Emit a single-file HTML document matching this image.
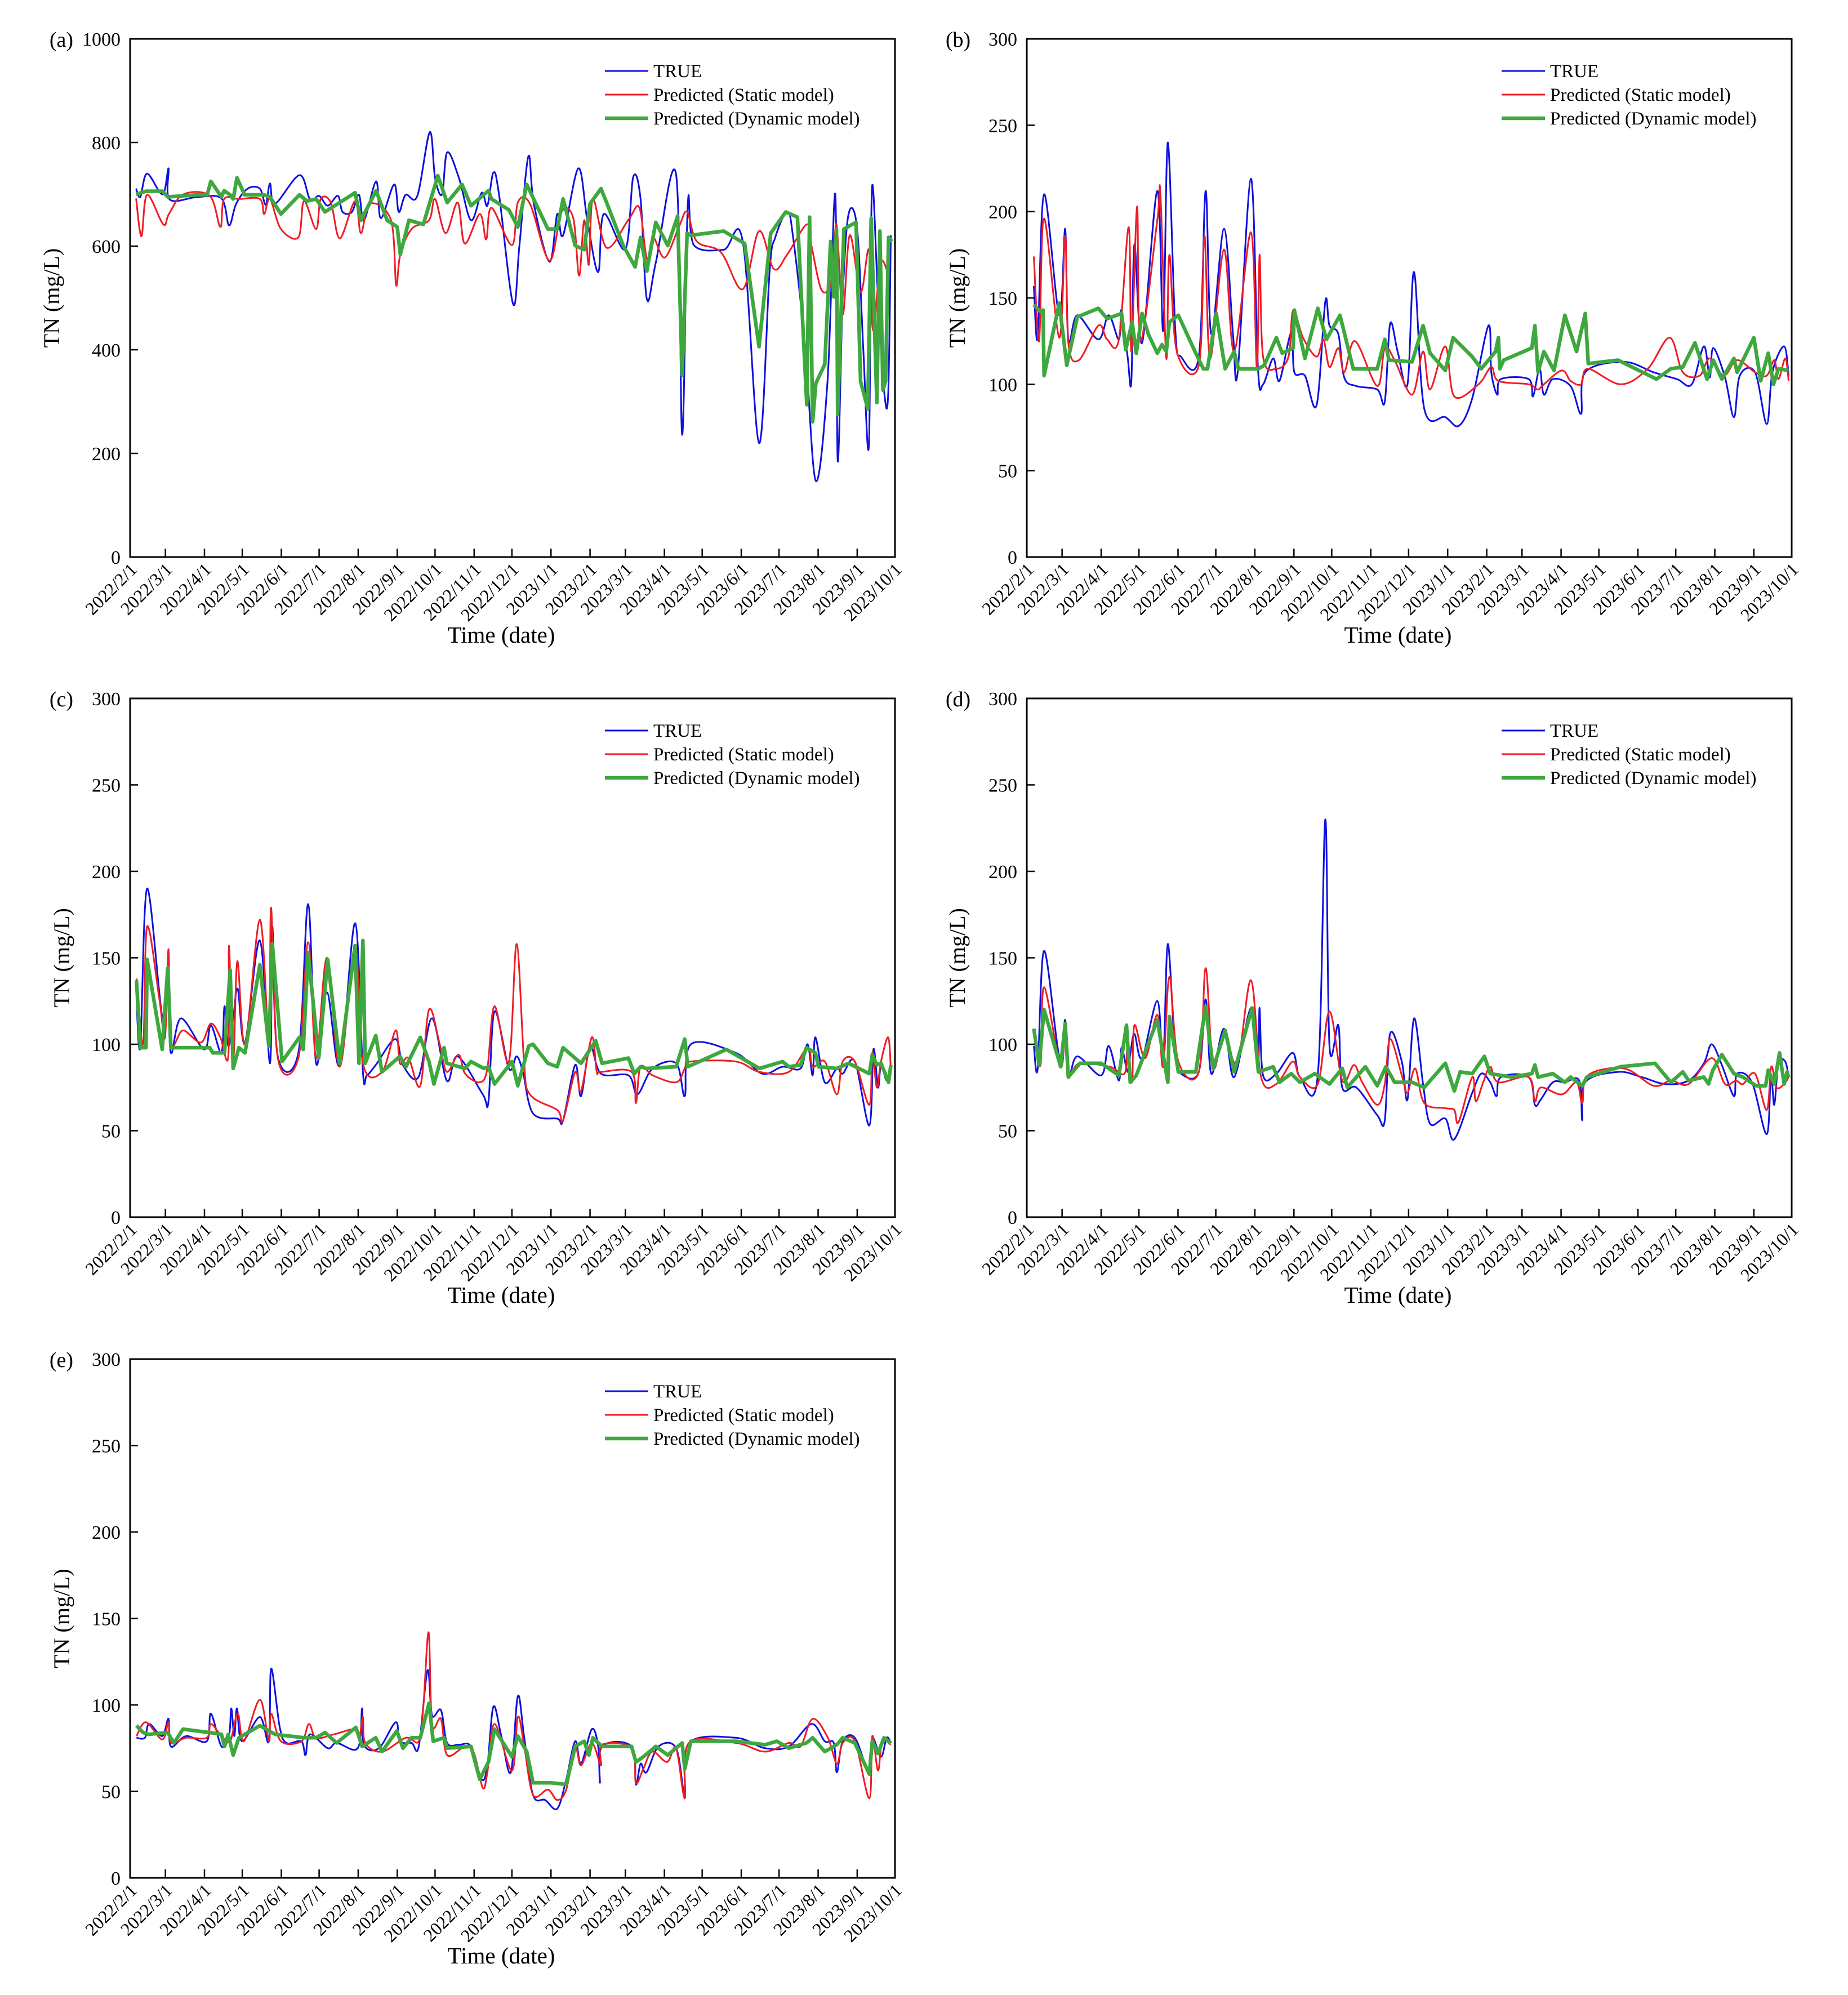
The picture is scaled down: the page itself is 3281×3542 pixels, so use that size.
<!DOCTYPE html>
<html><head><meta charset="utf-8">
<style>
html,body{margin:0;padding:0;background:#fff;}
svg{display:block;}
text{font-family:"Liberation Serif",serif;fill:#000;}
</style></head>
<body>
<svg id="chart" width="3281" height="3542" viewBox="0 0 3281 3542" xmlns="http://www.w3.org/2000/svg">
<rect x="0" y="0" width="3281" height="3542" fill="#fff"/>
</svg>
<script>
// ---------- data (t = months since 2022/2/1, v = TN mg/L) ----------
const monthLabels = ["2022/2/1","2022/3/1","2022/4/1","2022/5/1","2022/6/1","2022/7/1","2022/8/1","2022/9/1","2022/10/1","2022/11/1","2022/12/1","2023/1/1","2023/2/1","2023/3/1","2023/4/1","2023/5/1","2023/6/1","2023/7/1","2023/8/1","2023/9/1","2023/10/1"];
const seriesNames = ["TRUE","Predicted (Static model)","Predicted (Dynamic model)"];
const yTicksA = [0,200,400,600,800,1000];
const yTicksB = [0,50,100,150,200,250,300];

const a_true_t = [0.17,0.29,0.48,0.92,1.08,1.11,1.83,2.45,2.65,2.84,3.14,3.45,3.6,3.71,3.84,4.48,4.76,5.0,5.22,5.48,5.6,5.84,6.02,6.15,6.46,6.58,6.92,7.04,7.22,7.53,7.86,8.0,8.18,8.31,8.61,8.92,9.2,9.35,9.51,9.66,10.03,10.19,10.42,10.56,10.96,11.16,11.31,11.7,11.93,12.23,12.39,13.0,13.2,13.39,13.55,13.78,14.31,14.47,14.62,14.78,15.55,16.04,16.47,16.75,16.9,17.21,17.36,17.67,17.94,18.24,18.44,18.5,18.63,18.78,19.0,19.16,19.31,19.39,19.55,19.71,19.82,19.89];
const a_true_v = [711,695,740,700,750,690,695,692,640,682,711,711,680,721,682,737,690,697,678,697,666,666,699,650,725,654,719,666,699,697,820,732,700,781,732,650,703,678,742,699,488,600,773,682,570,662,621,750,650,550,662,594,733,691,498,568,738,236,682,602,593,609,220,552,617,666,617,404,147,339,700,187,502,662,633,404,216,711,502,322,314,621];
const a_static_t = [0.17,0.32,0.48,0.94,1.09,1.46,2.14,2.42,2.52,2.91,3.45,3.56,3.71,3.99,4.45,4.6,4.92,5.04,5.3,5.53,5.92,6.07,6.3,6.84,6.97,7.08,7.38,7.84,8.0,8.27,8.58,8.76,9.15,9.32,9.46,10.0,10.15,10.46,10.96,11.27,11.57,11.72,11.85,11.97,12.08,12.47,13.08,13.36,13.55,13.71,14.01,14.4,14.6,14.86,15.48,16.04,16.47,16.86,17.21,17.71,17.83,18.09,18.35,18.47,18.63,18.81,19.09,19.31,19.42,19.62,19.85];
const a_static_v = [692,619,699,642,662,700,697,637,691,691,691,662,691,633,617,687,633,691,684,615,687,625,682,650,525,584,633,650,691,625,684,605,662,613,674,602,684,682,572,666,654,543,650,564,691,597,651,674,576,617,578,640,666,609,588,517,629,556,584,642,601,515,535,642,468,621,511,593,437,568,539];
const a_dyn_t = [0.17,0.45,0.92,1.06,1.83,2.07,2.17,2.45,2.52,2.68,2.76,2.86,3.06,3.56,3.71,3.99,4.48,4.68,4.92,5.15,5.92,6.07,6.46,6.74,7.0,7.08,7.31,7.69,8.07,8.31,8.69,8.92,9.38,9.46,9.92,10.15,10.38,10.92,11.16,11.31,11.62,11.85,12.0,12.31,12.47,12.94,13.25,13.39,13.55,13.78,14.09,14.35,14.47,14.6,14.7,15.55,16.09,16.47,16.78,17.17,17.47,17.71,17.78,17.86,17.94,18.17,18.32,18.4,18.47,18.5,18.66,18.97,19.09,19.28,19.37,19.52,19.6,19.68,19.75,19.83,19.92];
const a_dyn_v = [700,706,706,695,699,699,725,695,707,699,691,732,699,699,695,662,699,687,691,666,703,650,707,650,637,584,650,642,736,684,719,678,707,691,670,637,719,633,633,691,601,593,682,711,684,601,560,617,552,646,601,658,351,625,621,629,605,406,625,666,656,294,656,261,335,372,609,502,633,276,633,646,339,286,654,298,629,322,339,617,609];

const b_true_t = [0.2,0.31,0.49,0.92,1.08,1.16,1.39,1.93,2.2,2.47,2.54,2.7,2.8,2.88,3.08,3.47,3.62,3.74,3.93,4.08,4.55,4.73,4.88,5.21,5.44,5.56,5.9,6.08,6.21,6.47,6.63,6.93,7.01,7.29,7.6,7.83,7.94,8.17,8.32,8.63,9.17,9.37,9.51,9.71,9.97,10.14,10.4,10.94,11.29,11.63,12.05,12.13,12.3,12.4,13.17,13.28,13.45,13.56,13.79,14.25,14.53,14.64,15.64,16.41,17.03,17.41,17.72,17.87,17.96,18.26,18.49,18.64,19.03,19.34,19.49,19.8,19.92];
const b_true_v = [157,127,210,140,190,126,140,126,140,126,143,116,102,181,124,212,131,240,132,116,116,212,129,190,129,107,219,109,100,115,102,130,107,105,88,148,134,129,104,99,97,90,135,119,100,165,86,81,76,92,134,107,94,103,103,93,109,94,103,99,83,107,113,107,103,100,122,104,121,104,81,105,107,77,107,122,105];
const b_static_t = [0.2,0.35,0.49,0.92,1.08,1.16,1.43,1.93,2.16,2.47,2.73,2.8,2.95,3.04,3.47,3.55,3.7,3.78,3.97,4.55,4.7,4.85,5.21,5.47,5.9,6.05,6.12,6.21,6.55,6.86,6.98,7.24,7.6,7.78,7.94,8.17,8.32,8.6,9.17,9.37,9.63,10.09,10.37,10.55,10.94,11.17,11.79,12.13,12.33,13.17,13.4,13.56,14.02,14.25,14.53,14.71,15.56,16.26,16.84,17.18,17.61,17.87,18.23,18.57,19.03,19.34,19.54,19.65,19.83,19.92];
const b_static_v = [174,125,196,127,186,124,114,134,126,126,191,119,203,125,195,210,115,175,119,111,186,115,178,119,188,109,175,116,109,116,143,127,116,126,110,121,107,125,99,121,114,94,119,97,122,93,100,110,102,100,97,100,108,102,100,109,100,109,127,107,105,115,105,114,107,105,114,103,115,102];
const b_dyn_t = [0.2,0.39,0.46,0.49,0.92,1.12,1.39,1.93,2.16,2.54,2.65,2.82,2.93,3.08,3.24,3.47,3.59,3.7,3.78,4.01,4.47,4.67,4.78,5.01,5.24,5.47,5.58,6.09,6.24,6.55,6.7,6.98,7.01,7.29,7.63,7.86,8.21,8.55,9.17,9.37,9.48,10.09,10.37,10.55,10.94,11.14,11.63,11.86,12.25,12.33,12.37,12.48,13.25,13.33,13.41,13.56,13.82,14.1,14.41,14.64,14.72,15.49,16.49,16.87,17.18,17.49,17.8,17.96,18.18,18.49,18.57,19.0,19.18,19.38,19.52,19.65,19.92];
const b_dyn_v = [146,142,143,105,147,111,139,144,138,141,120,136,118,141,129,118,123,119,136,140,118,109,109,141,109,119,109,109,111,127,118,121,143,115,144,126,140,109,109,126,114,113,134,118,108,127,116,109,119,127,109,114,121,134,107,119,108,140,119,141,112,114,103,109,110,124,103,114,103,115,107,127,102,118,100,109,108];

const c_true_t = [0.18,0.29,0.48,0.91,1.06,1.14,1.4,1.99,2.17,2.45,2.53,2.63,2.76,2.88,3.07,3.45,3.71,3.77,3.91,4.45,4.71,4.92,5.2,5.53,5.92,6.12,6.22,6.45,6.95,7.15,7.56,7.92,8.3,8.58,9.23,9.38,9.54,9.92,10.12,10.28,10.54,11.16,11.31,11.62,11.77,12.0,12.31,13.08,13.31,13.7,14.31,14.54,14.7,15.86,16.55,17.09,17.55,17.73,17.86,17.93,18.17,18.48,18.63,18.94,19.32,19.43,19.55,19.63,19.78,19.89];
const c_true_v = [126,99,190,116,133,95,115,97,111,95,122,99,115,132,101,160,89,168,93,95,181,89,130,88,170,84,82,88,103,88,81,115,79,93,71,67,119,86,93,84,60,57,56,88,70,99,83,82,71,86,89,70,100,95,83,87,86,100,82,104,78,86,83,90,53,97,75,88,79,86];
const c_static_t = [0.18,0.37,0.48,0.83,0.99,1.08,1.14,1.45,1.91,2.17,2.42,2.63,2.65,2.76,2.87,3.07,3.45,3.68,3.74,3.91,4.45,4.71,4.92,5.2,5.53,5.92,6.12,6.61,6.96,7.07,7.3,7.61,7.84,8.12,8.3,8.6,8.77,9.15,9.35,9.54,9.92,10.12,10.31,10.46,11.16,11.31,11.62,11.77,12.05,12.19,12.31,13.16,13.27,13.39,13.7,14.31,14.54,14.7,15.86,16.48,17.25,17.73,17.86,18.17,18.48,18.63,18.94,19.32,19.4,19.52,19.63,19.82,19.89];
const c_static_v = [138,100,168,126,104,155,101,108,101,112,104,93,157,90,148,100,172,104,179,92,92,159,92,150,87,157,89,84,108,89,92,76,120,100,84,94,83,78,86,122,90,158,90,71,62,56,84,73,104,84,84,84,66,87,82,78,86,90,90,84,84,98,87,90,71,90,90,65,95,75,90,104,86];
const c_dyn_t = [0.18,0.29,0.45,0.48,0.91,1.06,1.14,2.14,2.22,2.53,2.68,2.76,2.91,3.07,3.45,3.68,3.77,4.02,4.48,4.58,4.71,4.99,5.22,5.53,5.92,6.02,6.12,6.18,6.45,6.61,7.07,7.23,7.61,7.84,7.97,8.23,8.3,8.77,8.92,9.26,9.38,9.54,10.0,10.15,10.43,10.54,10.92,11.16,11.31,11.77,12.16,12.34,13.08,13.23,13.39,13.54,14.31,14.54,14.62,15.62,16.48,17.09,17.25,17.55,17.7,17.93,18.01,18.48,18.78,19.32,19.4,19.52,19.63,19.83,19.89];
const c_dyn_v = [137,98,98,149,97,144,98,98,95,95,143,86,98,95,146,99,158,90,104,97,153,92,149,89,157,89,160,89,105,84,93,87,104,90,77,98,89,86,90,86,87,77,90,76,99,100,89,87,98,89,102,89,92,83,87,86,87,103,87,97,86,90,87,88,98,95,87,86,89,83,94,88,89,78,88];

const d_true_t = [0.2,0.31,0.49,0.92,1.08,1.16,1.39,2.0,2.2,2.47,2.54,2.7,2.77,2.88,3.08,3.47,3.62,3.74,3.93,4.08,4.55,4.73,4.88,5.21,5.47,5.9,6.08,6.12,6.21,6.55,6.97,7.16,7.63,7.83,7.94,8.17,8.27,8.63,9.17,9.37,9.51,9.82,9.97,10.14,10.37,10.55,10.94,11.17,11.63,11.86,12.1,12.28,12.4,13.17,13.33,13.48,13.79,14.1,14.48,14.56,14.64,15.49,16.1,16.72,17.33,17.72,17.92,18.18,18.49,18.57,18.95,19.34,19.45,19.54,19.65,19.83,19.92];
const d_true_v = [99,86,154,93,114,81,93,82,99,79,98,84,94,106,92,125,90,158,94,83,84,126,83,109,81,121,88,121,82,83,95,81,82,230,99,111,75,75,59,56,106,90,68,115,77,54,57,45,72,83,78,70,81,81,65,68,78,78,79,56,78,84,81,77,79,89,100,88,70,83,78,48,82,65,89,90,81];
const d_static_t = [0.2,0.39,0.49,0.96,1.08,1.16,1.46,2.23,2.62,2.7,2.82,2.88,3.16,3.47,3.62,3.78,4.01,4.55,4.73,4.93,5.21,5.55,5.9,6.16,6.55,6.97,7.16,7.63,7.94,8.27,8.57,8.78,9.17,9.37,9.51,9.82,9.97,10.17,10.4,10.94,11.17,11.28,11.63,11.72,11.91,12.1,12.33,13.17,13.33,13.48,14.02,14.41,14.56,14.71,15.64,16.41,16.87,17.33,17.92,18.26,18.54,18.72,19.03,19.34,19.46,19.6,19.8,19.92];
const d_static_v = [106,88,133,87,112,84,89,87,83,100,78,111,92,117,87,139,90,84,144,87,106,89,137,81,77,90,81,77,119,79,88,78,65,77,103,82,72,86,66,63,62,55,81,67,78,87,78,81,67,75,71,78,66,82,86,76,79,77,92,77,79,77,83,62,87,75,77,81];
const d_dyn_t = [0.2,0.35,0.49,0.96,1.08,1.16,1.46,2.0,2.47,2.67,2.77,2.93,3.47,3.74,3.78,4.01,4.47,4.73,4.93,5.24,5.47,5.93,6.09,6.47,6.63,6.93,7.16,7.55,7.94,8.27,8.4,8.86,9.17,9.4,9.63,10.09,10.4,10.94,11.17,11.32,11.63,11.94,12.1,12.71,13.25,13.33,13.41,13.79,14.1,14.25,14.56,14.68,15.56,16.45,16.87,17.18,17.33,17.72,17.84,17.95,18.18,18.49,18.72,19.06,19.31,19.38,19.54,19.68,19.8,19.88,19.92];
const d_dyn_v = [109,88,120,87,112,81,89,89,82,111,78,82,114,78,116,84,84,122,86,108,84,121,84,87,78,83,78,83,77,86,75,87,76,87,78,78,75,89,73,84,83,93,83,81,83,88,81,83,78,81,76,81,87,89,78,84,79,81,77,85,94,83,81,76,76,85,77,95,77,84,81];

const e_true_t = [0.18,0.42,0.54,0.91,1.08,1.14,1.53,2.06,2.17,2.45,2.65,2.71,2.79,2.86,2.99,3.45,3.68,3.74,3.96,4.14,4.53,4.64,4.76,5.22,5.45,5.99,6.1,6.15,6.53,6.96,7.07,7.38,7.57,7.8,7.92,8.15,8.31,8.61,8.92,9.2,9.35,9.51,9.72,9.97,10.15,10.31,10.54,10.85,11.16,11.39,11.62,11.77,12.05,12.23,12.28,12.34,13.16,13.27,13.39,13.54,13.85,14.31,14.54,14.65,15.86,16.63,17.25,17.83,18.17,18.4,18.48,18.63,18.94,19.32,19.4,19.63,19.78,19.89];
const e_true_v = [81,81,89,82,92,76,82,79,95,76,82,98,82,98,79,93,79,121,87,78,79,71,83,75,78,75,98,77,75,90,79,78,76,120,94,97,78,77,76,57,65,99,82,61,105,82,48,45,40,57,79,66,86,76,55,76,76,54,66,61,76,75,48,78,81,75,76,89,79,78,61,79,81,61,81,70,81,78];
const e_static_t = [0.18,0.45,0.91,1.08,1.14,1.53,2.06,2.17,2.45,2.68,2.88,3.04,3.45,3.68,3.74,3.99,4.53,4.73,4.92,5.38,5.92,6.03,6.12,6.18,6.61,7.23,7.57,7.69,7.83,7.92,8.15,8.31,8.77,9.0,9.23,9.35,9.54,10.0,10.15,10.31,10.54,10.92,11.16,11.39,11.62,11.77,12.05,12.31,12.34,13.16,13.27,13.46,13.69,14.07,14.31,14.54,14.65,15.86,16.63,17.25,17.55,17.86,18.25,18.48,18.63,18.94,19.32,19.4,19.55,19.66,19.89];
const e_static_v = [82,90,80,90,78,81,81,89,82,79,95,79,103,79,95,79,79,89,81,83,86,81,93,78,73,81,79,99,142,89,92,71,76,72,52,61,89,62,93,77,48,51,45,51,75,65,78,65,77,75,55,63,73,67,75,46,78,78,73,78,76,92,81,66,78,79,46,82,62,79,77];
const e_dyn_t = [0.18,0.37,0.52,1.06,1.22,1.45,2.14,2.45,2.53,2.63,2.76,2.91,3.45,3.84,4.61,4.92,5.15,5.45,5.94,6.1,6.45,6.61,6.99,7.15,7.38,7.61,7.84,7.95,8.23,8.31,8.92,9.15,9.38,9.54,10.0,10.15,10.38,10.54,11.0,11.39,11.62,11.85,11.97,12.08,12.34,13.16,13.27,13.46,13.78,14.09,14.47,14.54,14.7,15.86,16.63,16.94,17.25,17.7,17.86,18.17,18.48,18.63,18.94,19.32,19.4,19.55,19.71,19.89];
const e_dyn_v = [88,84,83,84,78,86,84,83,76,83,71,81,88,83,81,81,84,78,87,76,81,73,85,75,81,81,101,79,81,75,76,57,67,86,70,82,73,55,55,54,76,79,71,81,76,76,67,70,76,71,78,63,79,79,77,79,75,78,81,73,77,81,78,60,79,72,81,78];

// ---------- layout ----------
const NS = "http://www.w3.org/2000/svg";
const svg = document.getElementById("chart");
const COLORS = ["#1010e0","#ee1c25","#3ea83e"];
const WIDTHS = [3,3,6.5];
const base = new Date(2022,1,1);
const totalDays = (new Date(2023,9,1) - base)/86400000;
function monthDay(m){ const d = new Date(2022,1+m,1); return (d-base)/86400000; }
function tToDay(t){ const f=Math.floor(t); const a=monthDay(f), b=monthDay(f+1); return a+(t-f)*(b-a); }

function el(tag, attrs, parent){
  const e=document.createElementNS(NS,tag);
  for(const k in attrs) e.setAttribute(k,attrs[k]);
  (parent||svg).appendChild(e); return e;
}
function smoothPath(pts){
  let d="M"+pts[0][0].toFixed(1)+","+pts[0][1].toFixed(1);
  for(let i=0;i<pts.length-1;i++){
    const p0=pts[i-1]||pts[i], p1=pts[i], p2=pts[i+1], p3=pts[i+2]||p2;
    const c1=[p1[0]+(p2[0]-p0[0])/6, p1[1]+(p2[1]-p0[1])/6];
    const c2=[p2[0]-(p3[0]-p1[0])/6, p2[1]-(p3[1]-p1[1])/6];
    d+="C"+c1[0].toFixed(1)+","+c1[1].toFixed(1)+" "+c2[0].toFixed(1)+","+c2[1].toFixed(1)+" "+p2[0].toFixed(1)+","+p2[1].toFixed(1);
  }
  return d;
}
function linePath(pts){ return "M"+pts.map(p=>p[0].toFixed(1)+","+p[1].toFixed(1)).join("L"); }

function panel(cfg){
  const g=el("g",{});
  
  
  const {x0,y0,W,H,ymax,ticks}=cfg;
  const X=t=>x0+tToDay(t)/totalDays*W;
  const Y=v=>y0+H-v/ymax*H;
  // series
  const clip=el("clipPath",{id:"clip-"+cfg.id},g);
  el("rect",{x:x0,y:y0,width:W,height:H},clip);
  const sg=el("g",{"clip-path":"url(#clip-"+cfg.id+")"},g);
  cfg.series.forEach((s,i)=>{
    const pts=s.t.map((t,j)=>[X(t),Y(s.v[j])]);
    const p=el("path",{d:i<2?smoothPath(pts):linePath(pts),fill:"none",stroke:COLORS[i],"stroke-width":WIDTHS[i],"stroke-linejoin":"round"},sg);
    
    
  });
  // frame
  const fr=el("rect",{x:x0,y:y0,width:W,height:H,fill:"none",stroke:"#000","stroke-width":3},g);
  
  
  // y ticks
  ticks.forEach(v=>{
    const y=Y(v);
    el("line",{x1:x0,x2:x0+14,y1:y,y2:y,stroke:"#000","stroke-width":2.5},g);
    const t=el("text",{x:x0-17,y:y+12,"font-size":34,"text-anchor":"end"},g);
    t.textContent=v;
    
    
  });
  // x ticks
  monthLabels.forEach((lab,i)=>{
    const x=X(i);
    el("line",{x1:x,x2:x,y1:y0+H,y2:y0+H-15,stroke:"#000","stroke-width":2.5},g);
    const t=el("text",{x:x+14,y:y0+H+24,"font-size":32,"text-anchor":"end",transform:"rotate(-45 "+(x+14)+" "+(y0+H+24)+")"},g);
    t.textContent=lab;
    
    
  });
  // titles
  const yt=el("text",{x:0,y:0,"font-size":40,"text-anchor":"middle",transform:"translate("+(x0+cfg.ytOff)+","+(y0+H/2)+") rotate(-90)"},g);
  yt.textContent="TN (mg/L)";
  
  
  const xt=el("text",{x:x0+W/2-20,y:y0+H+152,"font-size":41,"text-anchor":"middle"},g);
  xt.textContent="Time (date)";
  
  
  const pl=el("text",{x:x0+cfg.plOff,y:y0+14,"font-size":38,"text-anchor":"middle"},g);
  pl.textContent="("+cfg.id+")";
  
  
  // legend
  const lg=el("g",{},g);
  
  
  seriesNames.forEach((n,i)=>{
    const ly=y0+57+i*42;
    el("line",{x1:x0+843,x2:x0+920,y1:ly,y2:ly,stroke:COLORS[i],"stroke-width":WIDTHS[i]},lg);
    const t=el("text",{x:x0+929,y:ly+11,"font-size":33},lg);
    t.textContent=n;
    
    
  });
}

panel({id:"a",x0:231,y0:69,W:1358,H:920,ymax:1000,ticks:yTicksA,ytOff:-126,plOff:-122,
  series:[{t:a_true_t,v:a_true_v},{t:a_static_t,v:a_static_v},{t:a_dyn_t,v:a_dyn_v}]});
panel({id:"b",x0:1823,y0:69,W:1358,H:920,ymax:300,ticks:yTicksB,ytOff:-110,plOff:-122,
  series:[{t:b_true_t,v:b_true_v},{t:b_static_t,v:b_static_v},{t:b_dyn_t,v:b_dyn_v}]});
panel({id:"c",x0:231,y0:1240,W:1358,H:921,ymax:300,ticks:yTicksB,ytOff:-108,plOff:-122,
  series:[{t:c_true_t,v:c_true_v},{t:c_static_t,v:c_static_v},{t:c_dyn_t,v:c_dyn_v}]});
panel({id:"d",x0:1823,y0:1240,W:1358,H:921,ymax:300,ticks:yTicksB,ytOff:-110,plOff:-122,
  series:[{t:d_true_t,v:d_true_v},{t:d_static_t,v:d_static_v},{t:d_dyn_t,v:d_dyn_v}]});
panel({id:"e",x0:231,y0:2413,W:1358,H:921,ymax:300,ticks:yTicksB,ytOff:-108,plOff:-122,
  series:[{t:e_true_t,v:e_true_v},{t:e_static_t,v:e_static_v},{t:e_dyn_t,v:e_dyn_v}]});
</script>
</body></html>
